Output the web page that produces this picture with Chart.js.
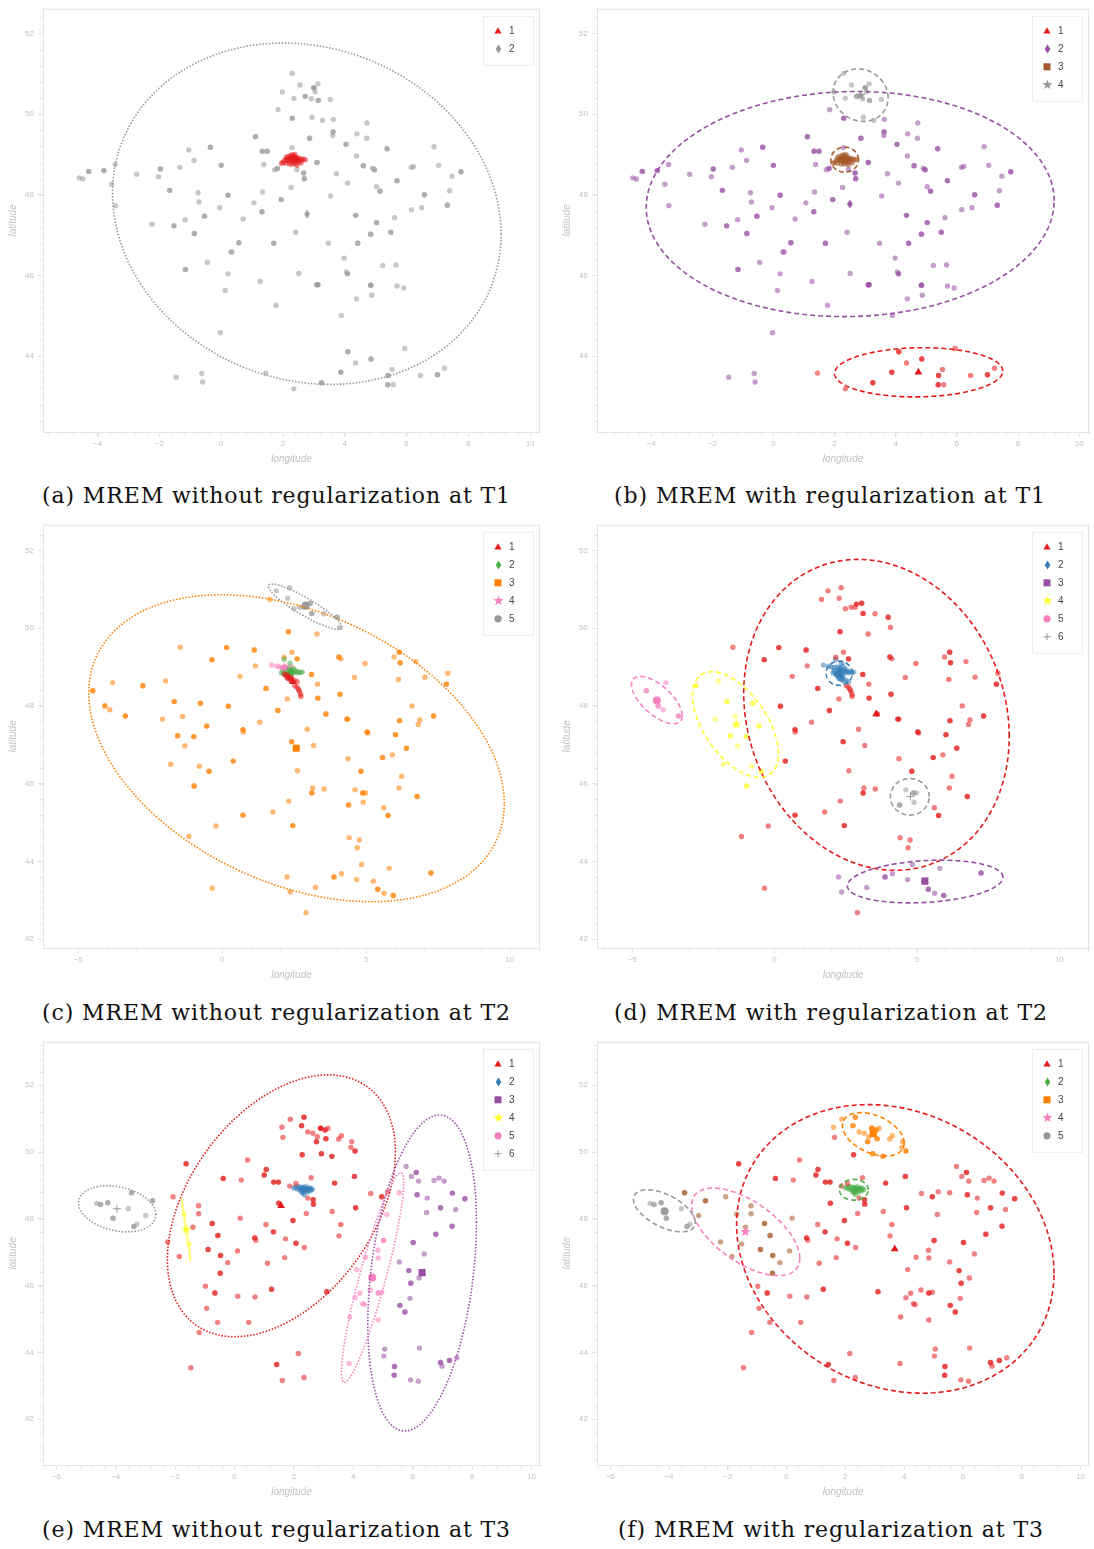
<!DOCTYPE html>
<html>
<head>
<meta charset="utf-8">
<script src="https://cdn.jsdelivr.net/npm/chart.js@4.4.1/dist/chart.umd.min.js"></script>
<style>
  body { margin: 0; background: #fff; width: 1094px; height: 1549px; position: relative; overflow: hidden; }
  canvas { position: absolute; }
  .cap { position: absolute; font-family: "DejaVu Serif", serif; font-size: 22px; line-height: 26px; color: #111; white-space: nowrap; }
</style>
</head>
<body>
<canvas id="pa" width="545" height="470" style="left:0;top:0"></canvas>
<canvas id="pb" width="540" height="470" style="left:554px;top:0"></canvas>
<canvas id="pc" width="545" height="470" style="left:0;top:516px"></canvas>
<canvas id="pd" width="540" height="470" style="left:554px;top:516px"></canvas>
<canvas id="pe" width="545" height="470" style="left:0;top:1033px"></canvas>
<canvas id="pf" width="540" height="470" style="left:554px;top:1033px"></canvas>

<div class="cap" id="ca" style="left:42px;top:483px">(a) MREM without regularization at T1</div>
<div class="cap" id="cb" style="left:614px;top:483px">(b) MREM with regularization at T1</div>
<div class="cap" id="cc" style="left:42px;top:1000px">(c) MREM without regularization at T2</div>
<div class="cap" id="cd" style="left:614px;top:1000px">(d) MREM with regularization at T2</div>
<div class="cap" id="ce" style="left:42px;top:1517px">(e) MREM without regularization at T3</div>
<div class="cap" id="cf" style="left:618px;top:1517px">(f) MREM with regularization at T3</div>

<script>
// points are [longitude, latitude, count] (count = repeated observations, default 1)

// ---- T1 ----
const t1Paris = [[2.0,48.80],[2.05,48.85],[2.1,48.92],[2.12,48.86],[2.15,48.95],[2.18,48.88],[2.2,48.83],
  [2.22,48.9],[2.25,48.97],[2.27,48.86],[2.3,48.92],[2.32,48.84],[2.33,48.9],[2.35,48.96],[2.36,48.87],
  [2.38,48.82],[2.4,48.93],[2.42,48.88],[2.45,48.85],[2.47,48.91],[2.5,48.87],[2.52,48.82],[2.55,48.9],
  [2.6,48.86],[2.65,48.88],[2.72,48.87],[2.3,48.76],[2.4,48.78],[2.22,48.76],[2.28,48.99],[2.38,49.0],
  [2.58,48.79],[1.95,48.78],[2.1,48.78],[2.45,48.73],[2.3,48.88],[2.4,48.9],[2.25,48.92],[2.35,48.85]];
const t1North = [[2.30,51.01],[2.55,50.72],[3.00,50.65,3],[3.13,50.75],[3.04,50.55],[1.98,50.55],[2.35,50.39],
  [2.72,50.44,2],[2.92,50.38],[3.14,50.34,2],[3.53,50.36],[2.94,49.92],[3.28,49.84]];
const t1South = [[4.10,44.11,2],[4.35,43.83],[4.85,43.93,2],[5.94,44.19],[3.87,43.60,2],[5.40,43.52,2],[5.53,43.67],
  [5.39,43.29,2],[5.57,43.29],[6.45,43.52],[7.00,43.54,2],[7.23,43.70],[3.25,43.34,2],[2.35,43.19],[1.44,43.58]];
const t1Rest = [[1.84,50.11],[2.30,49.90,2],[3.63,49.87],[4.72,49.78],[3.62,49.56,2],[3.61,49.47],[4.39,49.51],
  [4.71,49.40],[2.86,49.40,2],[1.11,49.44,2],[4.04,49.25,2],[5.37,49.14,2],[6.89,49.19],[2.29,49.17],[1.33,49.08,2],
  [1.49,49.08,2],[-0.35,49.18,2],[-1.05,49.11],[-0.88,48.85],[0.0,48.73,2],[1.38,48.75],[1.82,48.65,2],[1.73,48.62],
  [2.45,48.62],[2.67,48.54,2],[2.69,48.40,2],[3.10,48.80,2],[4.38,48.96],[4.60,48.72,2],[4.90,48.66],[4.96,48.62,2],
  [3.73,48.52],[4.09,48.29],[5.69,48.35,2],[6.22,48.70],[6.15,48.68],[7.04,48.73],[7.47,48.46],[7.76,48.57,2],
  [7.39,48.10],[6.58,48.00,2],[7.32,47.74,2],[6.49,47.68],[6.16,47.63],[5.03,48.20],[5.14,48.09,2],[3.54,47.97],
  [2.26,48.18],[1.94,47.88,2],[1.34,48.07],[1.06,47.80],[1.32,47.58,2],[4.35,47.49,2],[5.03,47.31,2],[5.61,47.43],
  [4.84,47.02,2],[5.49,47.07,2],[4.42,46.80,2],[3.47,46.80],[2.41,47.07],[1.70,46.80,2],[0.71,47.40],[0.57,46.81,2],
  [0.31,46.58],[0.35,46.58],[-0.05,47.68],[0.22,47.99,2],[-0.54,47.47,2],[-0.75,48.05],[-0.72,47.82],[-1.17,47.38],
  [-0.87,47.04,2],[-1.53,47.23,2],[-1.67,48.11,2],[-2.24,47.27],[-2.03,48.45],[-1.97,48.64,2],[-1.34,48.68],
  [-2.74,48.51],[-3.43,48.75],[-3.55,48.26],[-3.42,47.73],[-3.80,48.60,2],[-4.29,48.58,2],[-4.60,48.42],[-4.48,48.39],
  [-0.45,46.32],[-1.16,46.15,2],[0.22,46.04],[0.13,45.63],[1.26,45.85],[2.51,46.05],[1.77,45.26],[3.10,45.77,2],
  [3.13,45.77,2],[3.98,46.43],[4.05,46.09],[4.09,46.04,2],[4.84,45.76,3],[4.87,45.51],[4.38,45.42],[5.23,46.25],
  [5.66,46.26],[5.69,45.74],[5.91,45.69],[3.89,45.01],[-0.03,44.58],[-1.46,43.48],[-0.63,43.57],[-0.60,43.36]];

// ---- T2 ----
const t2ParisGreen = [[2.05,48.85],[2.1,48.9],[2.15,48.82],[2.2,48.88],[2.25,48.93],[2.28,48.85],[2.32,48.9],
  [2.35,48.8],[2.38,48.87],[2.42,48.92],[2.45,48.84],[2.5,48.88],[2.55,48.9],[2.6,48.85],[2.65,48.88],[2.72,48.86],
  [2.78,48.87],[2.3,48.95],[2.22,48.8],[2.48,48.96],[2.35,49.1],[2.15,49.2]];
const t2ParisRedUpper = [[2.2,48.78],[2.25,48.72],[2.3,48.75],[2.35,48.68],[2.4,48.72],[2.42,48.64],[2.5,48.66],
  [2.3,48.7],[2.15,48.82],[2.28,48.8],[2.37,48.76],[2.6,48.62]];
const t2ParisRedLower = [[2.52,48.52],[2.6,48.48],[2.65,48.42],[2.68,48.38],[2.72,48.3],[2.73,48.24]];
const t2ParisPink = [[1.72,49.05],[1.9,49.02],[2.0,49.0],[2.1,48.98],[2.2,49.0],[2.3,48.98],[2.4,49.02]];
const t2North = [[1.88,50.96],[2.34,51.04],[2.27,50.77],[2.88,50.62,2],[3.06,50.64,2],[2.83,50.54],[2.69,50.54],
  [2.49,50.50],[3.11,50.38,2],[3.53,50.37],[3.99,50.28,2],[4.07,50.02]];
const t2West = [[-2.76,48.52,2],[-1.97,48.64],[-1.67,48.11,2],[-0.76,48.07,2],[-2.08,47.66],[-1.38,47.73],
  [-1.55,47.23,2],[-0.99,47.21,2],[-0.54,47.48,2],[-1.30,46.97],[-1.79,46.50],[-0.80,46.45],[-0.46,46.32,2],[-0.98,45.94,2]];
const t2FarWest = [[-4.50,48.39,2],[-3.81,48.60],[-4.08,48.00,2],[-3.91,47.90],[-3.37,47.74,2]];
const t2Lyon = [[4.61,45.84],[4.88,45.76,2],[4.98,45.76],[4.39,45.45,2],[4.90,45.52]];
const t2South = [[2.25,43.60],[2.36,43.21],[3.24,43.33],[3.88,43.60,2],[4.14,43.68],[4.67,43.53],[4.84,43.92],
  [5.25,43.49],[5.40,43.28,2],[5.62,43.18],[5.80,43.82],[5.94,43.12,2],[7.25,43.70,2]];
const t2Rest = [[1.65,50.74],[2.30,49.91,2],[3.29,49.85],[-1.46,49.51],[0.15,49.50,2],[1.11,49.44,2],[-0.36,49.19,2],
  [2.42,49.38],[2.15,49.25],[2.60,49.21,2],[4.05,49.26,2],[4.12,49.21],[1.15,49.03],[4.96,49.09],[5.97,49.26],
  [6.15,49.38,2],[6.18,49.11,2],[6.72,49.14],[7.04,48.74],[6.12,48.68],[7.84,48.84],[7.79,48.56,2],[4.59,48.73],
  [3.10,48.81,2],[3.31,48.56],[1.52,48.45,2],[0.62,48.76],[0.21,47.99,2],[0.72,47.39,2],[0.73,47.33],[1.30,47.58],
  [1.93,47.88,2],[2.26,48.18],[3.32,48.20,2],[3.60,47.79,2],[4.09,48.30,2],[4.33,47.66,2],[4.37,47.66],[2.95,47.40],
  [2.41,47.08,2],[3.17,46.98],[5.03,47.33,2],[5.06,47.30],[6.02,47.26,2],[6.16,47.62,2],[6.59,48.00],[6.86,47.64],
  [6.81,47.52],[7.34,47.74,2],[6.40,46.91,2],[5.91,46.74],[5.57,46.67,2],[4.37,46.64],[4.82,46.32,2],[6.23,46.19],
  [6.14,45.89],[6.77,45.67,2],[3.54,45.86],[3.14,45.89],[3.11,45.76,2],[2.61,46.33],[2.31,45.55],[1.76,45.27],
  [2.45,44.92,2],[0.72,45.19,2],[0.38,46.58,2],[-0.22,44.91],[-1.16,44.64],[5.61,45.38],[5.76,45.18,2],[4.41,44.61],
  [4.76,44.55],[4.69,44.35],[-0.35,43.31],[2.91,42.68]];

// ---- T3 ----
const t3Paris = [[2.0,48.92],[2.05,48.95],[2.1,48.9],[2.15,48.97],[2.18,48.88],[2.2,48.93],[2.25,48.86],[2.28,48.95],
  [2.3,48.9],[2.33,48.84],[2.35,48.92],[2.38,48.88],[2.4,48.96],[2.42,48.85],[2.45,48.9],[2.5,48.87],[2.52,48.93],
  [2.55,48.84],[2.58,48.9],[2.62,48.88],[2.3,48.78],[2.35,48.72],[2.25,48.8],[2.45,48.8],[2.32,48.88],[2.4,48.9]];
const t3North = [[1.88,50.98],[2.34,51.04,2],[1.60,50.74],[2.26,50.79,2],[2.90,50.71,3],[3.05,50.66,2],[3.15,50.71],
  [2.47,50.60],[2.64,50.56],[2.79,50.46],[2.76,50.31,2],[3.08,50.40,2],[3.51,50.39],[3.60,50.49],[3.95,50.31],
  [3.92,50.14],[4.06,50.03,2],[2.93,49.95,2],[3.28,49.87,2]];
const t3FarWest = [[-4.64,48.46],[-4.51,48.43,2],[-4.27,48.48,2],[-4.09,48.02,2],[-3.58,48.30],[-3.39,47.77,2],[-3.29,47.84]];
const t3WestEdge = [[-3.47,48.78,2],[-2.76,48.54,2],[-2.99,48.10]];
const t3Yellow = [[-1.70,48.14],[-1.53,47.25]];
const t3West = [[-2.07,48.66],[-1.21,48.39],[-1.21,48.15],[-1.40,47.75],[-2.25,47.31],[-1.86,46.87],[-0.75,47.86,2],
  [-0.56,47.50,2],[-0.89,47.08,2],[-0.47,46.90,2],[-0.48,46.37,2],[-0.23,46.69],[0.19,48.02],[0.10,47.04]];
const t3Pink = [[5.55,48.78],[5.13,48.13],[5.02,47.35,2],[4.83,47.06],[4.84,46.83],[4.41,46.85],[4.12,46.48],
  [4.22,45.77],[4.06,45.64],[4.32,45.46],[4.57,45.87],[4.84,45.78,2],[4.96,45.80],[4.84,44.97],[3.88,45.06],
  [3.86,43.67],[4.37,45.43]];
const t3East = [[5.78,49.57],[6.12,49.39,2],[5.96,49.27],[6.20,49.13],[6.72,49.15],[6.89,49.22],[7.06,49.13],
  [6.15,48.72,2],[6.49,48.62],[7.34,48.77,2],[7.76,48.60,2],[6.94,48.33,2],[7.45,48.28],[6.47,48.19],[7.33,47.78,2],
  [6.78,47.54,2],[6.02,47.29,2],[6.39,46.95],[5.55,46.71],[5.87,46.45,2],[5.94,46.07,2],[5.91,45.62],[5.57,45.41,2],
  [5.74,45.21,2],[5.06,44.10],[5.03,43.89],[5.39,43.58,2],[5.38,43.32,2],[5.93,43.18],[6.19,43.14],[6.23,44.13],
  [6.94,43.70,2],[6.99,43.59],[7.24,43.76,2],[7.49,43.84],[6.22,46.23]];
const t3Rest = [[1.63,50.44],[2.28,49.92,2],[0.44,49.76],[1.07,49.48,2],[1.00,49.31,2],[1.32,49.10,2],[1.48,49.10,2],
  [0.23,49.16],[-0.38,49.21,2],[-1.63,49.65,2],[2.58,49.23],[1.86,48.98],[2.07,49.06],[3.37,49.07,2],[4.04,49.27,2],
  [4.59,48.76],[4.96,48.66,2],[5.16,48.81],[4.08,48.33,2],[2.47,48.62],[2.65,48.57,2],[2.66,48.44,2],[2.42,48.16],
  [1.49,48.47,2],[3.29,48.22],[0.68,47.43,2],[0.72,47.36],[1.06,47.83],[1.31,47.61,2],[1.72,47.40],[1.97,47.95,2],
  [2.07,47.27,2],[2.35,47.14],[1.11,46.67],[1.69,46.84],[3.58,47.83],[3.52,47.49],[-0.98,45.98],[-0.66,45.78,2],
  [-0.94,45.32],[0.11,45.68],[0.69,45.66],[1.25,45.89,2],[3.11,45.82,2],[-0.57,44.90],[0.48,44.90],[-1.19,44.60],
  [-1.47,43.54],[1.42,43.64,2],[2.15,43.97],[1.61,43.16],[2.34,43.25]];

// Set1 colours
const C = { red: '#e41a1c', blue: '#377eb8', green: '#4daf4a', purple: '#984ea3', orange: '#ff7f00',
  yellow: '#ffff33', brown: '#a65628', pink: '#f781bf', gray: '#999999' };

// cluster means and ellipses [cx, cy, halfWidth, halfHeight, correlation] per panel
const meansA = [[2.34,48.88],[2.78,47.52]];
const ellA = [null, [2.77,47.53,6.29,4.23,-0.12]];
const meansB = [[4.74,43.60],[2.50,47.77],[2.33,48.87],[2.85,50.47]];
const ellB = [[4.75,43.60,2.75,0.61,0.05],[2.51,47.77,6.67,2.79,0.03],[2.33,48.87,0.45,0.31,0],[2.85,50.47,0.90,0.65,-0.1]];
const meansC = [[2.45,48.62],[2.40,48.88],[2.57,46.91],[2.15,49.0],[2.90,50.58]];
const ellC = [null, null, [2.58,46.91,7.22,3.95,-0.36], null, [2.88,50.55,1.28,0.585,-0.9]];
const meansD = [[3.57,47.79],[2.27,48.86],[5.28,43.49],[-1.34,47.53],[-4.13,48.14],[4.77,45.67]];
const ellD = [[3.58,47.77,4.66,4.0,-0.14],[2.27,48.84,0.46,0.31,0],[5.29,43.48,2.73,0.55,0.2],
  [-1.37,47.52,1.51,1.36,-0.55],[-4.13,48.15,0.89,0.61,-0.65],[4.75,45.66,0.68,0.47,0]];
const meansE = [[1.57,48.39],[2.30,48.88],[6.32,46.39],[-1.63,47.69],[4.64,46.24],[-3.96,48.30]];
const ellE = [[1.58,48.39,3.84,3.92,0.41], null, [6.32,46.38,1.83,4.73,0.32], [-1.63,47.68,0.15,0.905,-0.99],
  [4.65,46.24,1.05,3.14,0.9], [-3.95,48.30,1.30,0.69,-0.25]];
const meansF = [[3.68,47.10],[2.30,48.87],[2.95,50.55],[-1.40,47.62],[-4.15,48.23]];
const ellF = [[3.70,47.10,5.40,4.32,-0.17],[2.29,48.87,0.49,0.31,0],[2.95,50.53,1.05,0.65,-0.4],
  [-1.39,47.61,1.84,1.31,-0.6],[-4.16,48.24,1.05,0.63,-0.55]];

const STYLES = ['triangle', 'diamond', 'square', 'star', 'circle', 'cross'];

function expand(groups) {
  const out = [];
  groups.forEach(g => g.forEach(p => { for (let i = 0; i < (p[2] || 1); i++) out.push({ x: p[0], y: p[1] }); }));
  return out;
}
function rgba(hex, a) {
  const n = parseInt(hex.slice(1), 16);
  return `rgba(${n >> 16},${(n >> 8) & 255},${n & 255},${a})`;
}
function starImg(color) {
  const c = document.createElement('canvas'); c.width = 11; c.height = 11;
  const g = c.getContext('2d'); g.fillStyle = color; g.beginPath();
  for (let i = 0; i < 10; i++) {
    const a = -Math.PI / 2 + i * Math.PI / 5, r = i % 2 ? 2.2 : 5.2;
    g.lineTo(5.5 + r * Math.cos(a), 5.8 + r * Math.sin(a));
  }
  g.closePath(); g.fill(); return c;
}
function diamondImg(color) {
  const c = document.createElement('canvas'); c.width = 7; c.height = 10;
  const g = c.getContext('2d'); g.fillStyle = color; g.beginPath();
  g.moveTo(3.5, 0.5); g.lineTo(6.3, 5); g.lineTo(3.5, 9.5); g.lineTo(0.7, 5); g.closePath(); g.fill(); return c;
}
function markerProps(style, color) {
  switch (style) {
    case 'triangle': return { pointStyle: 'triangle', pointRadius: 4.5, borderWidth: 0 };
    case 'diamond': return { pointStyle: diamondImg(color), pointRadius: 5, borderWidth: 0 };
    case 'square': return { pointStyle: 'rect', pointRadius: 5, borderWidth: 0 };
    case 'star': return { pointStyle: starImg(color), pointRadius: 5, borderWidth: 0 };
    case 'circle': return { pointStyle: 'circle', pointRadius: 4, borderWidth: 0 };
    default: return { pointStyle: 'cross', pointRadius: 4, borderWidth: 1 };
  }
}

// light frame + minor ticks
const framePlugin = {
  id: 'frame',
  afterDraw(chart, args, o) {
    const { ctx: g, chartArea: ca, scales: { x, y } } = chart;
    g.save();
    g.strokeStyle = '#e4e4e4'; g.lineWidth = 1;
    g.strokeRect(ca.left + 0.5, ca.top + 0.5, ca.right - ca.left - 1, ca.bottom - ca.top);
    g.beginPath();
    for (let k = Math.ceil(x.min / o.xMinor); k * o.xMinor <= x.max; k++) {
      const px = Math.round(x.getPixelForValue(k * o.xMinor)) + 0.5;
      g.moveTo(px, ca.bottom); g.lineTo(px, ca.bottom + 3);
    }
    for (let k = Math.ceil(y.min / 0.4); k * 0.4 <= y.max; k++) {
      const py = Math.round(y.getPixelForValue(k * 0.4)) + 0.5;
      g.moveTo(ca.left, py); g.lineTo(ca.left - 3, py);
    }
    g.stroke();
    g.restore();
  }
};

// cluster ellipses drawn in data space
const ellipsePlugin = {
  id: 'ellipses',
  afterDatasetsDraw(chart, args, o) {
    const { ctx: g, chartArea: ca, scales: { x, y } } = chart;
    g.save();
    g.beginPath(); g.rect(ca.left, ca.top, ca.right - ca.left, ca.bottom - ca.top); g.clip();
    o.items.forEach(it => {
      const [cx, cy, sx, sy, r] = it.p;
      g.strokeStyle = it.color;
      g.lineWidth = 1.6;
      g.setLineDash(o.dotted ? [1.5, 1.7] : [5, 3]);
      g.beginPath();
      for (let i = 0; i <= 180; i++) {
        const t = i / 180 * Math.PI * 2;
        const vx = cx + sx * Math.cos(t);
        const vy = cy + sy * (r * Math.cos(t) + Math.sqrt(1 - r * r) * Math.sin(t));
        const px = x.getPixelForValue(vx), py = y.getPixelForValue(vy);
        i ? g.lineTo(px, py) : g.moveTo(px, py);
      }
      g.stroke();
    });
    g.restore();
  }
};

// legend box inside the plot, top right
function drawMarker(g, ds, cx, cy) {
  const ps = ds.pointStyle;
  g.fillStyle = ds.backgroundColor; g.strokeStyle = ds.borderColor;
  if (ps instanceof HTMLCanvasElement) { g.drawImage(ps, Math.round(cx - ps.width / 2), Math.round(cy - ps.height / 2)); return; }
  g.beginPath();
  if (ps === 'triangle') { g.moveTo(cx, cy - 3.6); g.lineTo(cx + 3.6, cy + 2.6); g.lineTo(cx - 3.6, cy + 2.6); g.closePath(); g.fill(); }
  else if (ps === 'rect') { g.fillRect(cx - 3.5, cy - 3.5, 7, 7); }
  else if (ps === 'circle') { g.arc(cx, cy, 3.6, 0, Math.PI * 2); g.fill(); }
  else { g.lineWidth = 1; g.moveTo(cx - 3.5, cy); g.lineTo(cx + 3.5, cy); g.moveTo(cx, cy - 3.5); g.lineTo(cx, cy + 3.5); g.stroke(); }
}
const legendPlugin = {
  id: 'boxLegend',
  afterDraw(chart) {
    const { ctx: g, chartArea: ca } = chart;
    const ms = chart.data.datasets.filter(d => d.isMean);
    const w = 50, h = 13 + 18 * ms.length, x0 = ca.right - 7 - w, y0 = ca.top + 7;
    g.save();
    g.fillStyle = '#fff'; g.fillRect(x0, y0, w, h);
    g.strokeStyle = '#ececec'; g.lineWidth = 1; g.strokeRect(x0 + 0.5, y0 + 0.5, w, h);
    ms.forEach((d, i) => {
      const cy = y0 + 15 + 18 * i;
      drawMarker(g, d, x0 + 15, cy);
      g.fillStyle = '#444'; g.font = '10px "Liberation Sans", Arial, sans-serif';
      g.textBaseline = 'middle'; g.fillText(d.label, x0 + 26, cy + 0.5);
    });
    g.restore();
  }
};

const minus = v => String(v).replace('-', '\u2212');
const tickFont = { family: '"Liberation Sans", Arial, sans-serif', size: 8 };
const titleFont = { family: '"Liberation Sans", Arial, sans-serif', size: 10, style: 'italic' };

function panel(id, o) {
  const datasets = [];
  o.colors.forEach((col, i) => {
    datasets.push(Object.assign({
      label: String(i + 1), isMean: true, data: [{ x: o.means[i][0], y: o.means[i][1] }],
      backgroundColor: col, borderColor: col
    }, markerProps(STYLES[i], col)));
  });
  o.colors.forEach((col, i) => {
    const pc = (o.pointColors && o.pointColors[i]) || col;
    datasets.push({
      label: 'pts' + (i + 1), data: expand(o.groups[i]), pointStyle: 'circle', pointRadius: 2.7,
      borderWidth: 0, backgroundColor: rgba(pc, 0.55), borderColor: rgba(pc, 0.55)
    });
  });
  const ellipses = [];
  o.ellipses.forEach((p, i) => { if (p) ellipses.push({ color: o.colors[i], p }); });
  const right = id === 'pb' || id === 'pd' || id === 'pf';
  return new Chart(document.getElementById(id), {
    type: 'scatter',
    data: { datasets },
    options: {
      responsive: false, animation: false, devicePixelRatio: 1,
      layout: { padding: { top: 8, right: right ? 2 : 3, left: 0, bottom: 0 } },
      plugins: {
        legend: { display: false }, tooltip: { enabled: false },
        frame: { xMinor: o.xStep / 5 },
        ellipses: { items: ellipses, dotted: o.dotted }
      },
      scales: {
        x: {
          type: 'linear', min: o.x[0], max: o.x[1],
          afterFit: s => { s.height = 38; },
          ticks: { stepSize: o.xStep, includeBounds: false, font: tickFont, color: '#c2c2c2', padding: 2, maxRotation: 0, callback: minus },
          grid: { drawOnChartArea: false, tickLength: 5, color: '#e0e0e0' },
          border: { color: '#e0e0e0' },
          title: { display: true, text: 'longitude', font: titleFont, color: '#c2c2c2', padding: { top: 0, bottom: 5 } }
        },
        y: {
          type: 'linear', min: o.y[0], max: o.y[1],
          afterFit: s => { s.width = 43; },
          ticks: { stepSize: 2, includeBounds: false, font: tickFont, color: '#c2c2c2', padding: 4, callback: minus },
          grid: { drawOnChartArea: false, tickLength: 5, color: '#e0e0e0' },
          border: { color: '#e0e0e0' },
          title: { display: true, text: 'latitude', font: titleFont, color: '#c2c2c2', padding: { top: 7, bottom: 0 } }
        }
      }
    },
    plugins: [framePlugin, ellipsePlugin, legendPlugin]
  });
}

const rangeT1 = { x: [-5.77, 10.32], y: [42.12, 52.61], xStep: 2 };
const rangeT2 = { x: [-6.23, 11.04], y: [41.77, 52.66], xStep: 5 };
const rangeT3 = { x: [-6.45, 10.29], y: [40.63, 53.3], xStep: 2 };

panel('pa', Object.assign({}, rangeT1, { dotted: true,
  colors: [C.red, C.gray],
  groups: [[t1Paris], [t1North, t1South, t1Rest]],
  means: meansA, ellipses: ellA }));
panel('pb', Object.assign({}, rangeT1, { dotted: false,
  colors: [C.red, C.purple, C.brown, C.gray],
  groups: [[t1South], [t1Rest], [t1Paris], [t1North]],
  means: meansB, ellipses: ellB }));
panel('pc', Object.assign({}, rangeT2, { dotted: true,
  colors: [C.red, C.green, C.orange, C.pink, C.gray],
  groups: [[t2ParisRedUpper, t2ParisRedLower], [t2ParisGreen], [t2West, t2FarWest, t2Lyon, t2South, t2Rest], [t2ParisPink], [t2North]],
  means: meansC, ellipses: ellC }));
panel('pd', Object.assign({}, rangeT2, { dotted: false,
  colors: [C.red, C.blue, C.purple, C.yellow, C.pink, C.gray],
  groups: [[t2North, t2Rest, t2ParisRedLower], [t2ParisGreen, t2ParisRedUpper, t2ParisPink], [t2South], [t2West], [t2FarWest], [t2Lyon]],
  means: meansD, ellipses: ellD }));
panel('pe', Object.assign({}, rangeT3, { dotted: true,
  colors: [C.red, C.blue, C.purple, C.yellow, C.pink, C.gray],
  groups: [[t3Rest, t3North, t3West], [t3Paris], [t3East], [t3Yellow], [t3Pink], [t3FarWest, t3WestEdge]],
  means: meansE, ellipses: ellE }));
panel('pf', Object.assign({}, rangeT3, { dotted: false,
  colors: [C.red, C.green, C.orange, C.pink, C.gray],
  pointColors: [null, null, null, C.brown, null],
  groups: [[t3Rest, t3Pink, t3East], [t3Paris], [t3North], [t3West, t3Yellow, t3WestEdge], [t3FarWest]],
  means: meansF, ellipses: ellF }));

// stretch captions to the widths they have in the figure
const capWidths = { ca: 469, cb: 432, cc: 469, cd: 434, ce: 469, cf: 426 };
Object.keys(capWidths).forEach(id => {
  const el = document.getElementById(id);
  const w = el.getBoundingClientRect().width;
  el.style.letterSpacing = ((capWidths[id] - w) / el.textContent.length) + 'px';
});
</script>
</body>
</html>
